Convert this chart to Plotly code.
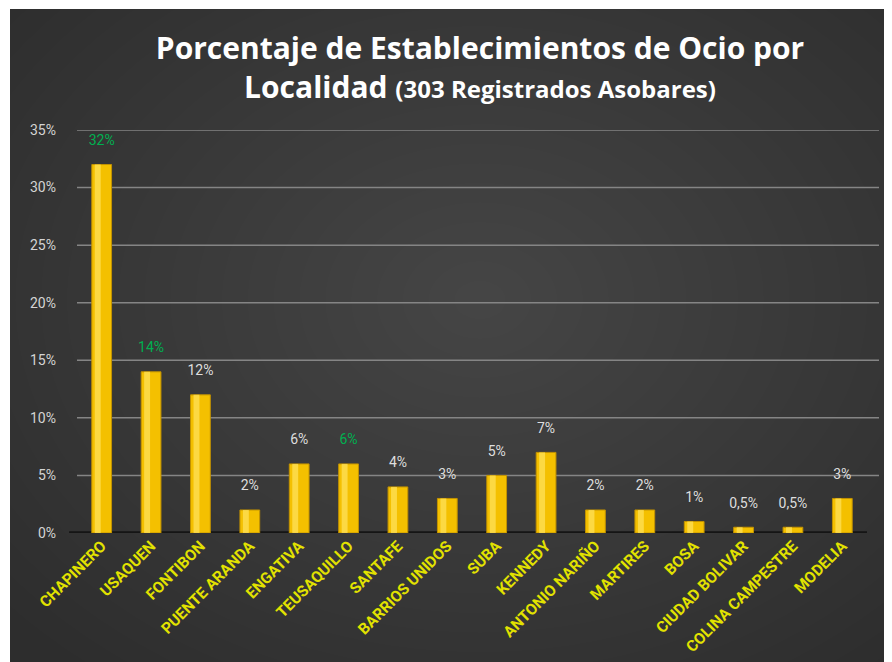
import plotly.graph_objects as go

# localidades and share of registered venues (%)
localidades = [
    "CHAPINERO", "USAQUEN", "FONTIBON", "PUENTE ARANDA", "ENGATIVA",
    "TEUSAQUILLO", "SANTAFE", "BARRIOS UNIDOS", "SUBA", "KENNEDY",
    "ANTONIO NARIÑO", "MARTIRES", "BOSA", "CIUDAD BOLIVAR",
    "COLINA CAMPESTRE", "MODELIA",
]
porcentajes = [32, 14, 12, 2, 6, 6, 4, 3, 5, 7, 2, 2, 1, 0.5, 0.5, 3]
destacados = ["CHAPINERO", "USAQUEN", "TEUSAQUILLO"]
y_ticks = [0, 5, 10, 15, 20, 25, 30, 35]

W, H = 892, 662
OFF = 8  # page body margin shifts the figure
ML, MR, MT, MB = 77 - OFF, W - (867 - OFF), 130 - OFF, H - (533 - OFF)
PW = W - ML - MR
PH = H - MT - MB


def px_x(p):
    # page pixel -> paper x
    return (p - OFF - ML) / PW


def px_y(p):
    return (H - MB - (p - OFF)) / PH


labels = [f"{v:g}%".replace(".", ",") for v in porcentajes]
label_colors = ["#00b050" if loc in destacados else "#dedede" for loc in localidades]
font_narrow = "Liberation Sans Narrow, Roboto, sans-serif"

fig = go.Figure()

fig.add_trace(
    go.Bar(
        x=localidades,
        y=porcentajes,
        width=0.4,
        marker=dict(color="#f4c000", line=dict(color="#c29200", width=1)),
        hoverinfo="x+y",
    )
)
# cylinder highlight
fig.add_trace(
    go.Bar(
        x=localidades,
        y=porcentajes,
        width=0.12,
        offset=-0.14,
        marker=dict(color="rgba(255,225,90,0.75)", line=dict(width=0)),
        hoverinfo="skip",
    )
)
fig.add_trace(
    go.Scatter(
        x=localidades,
        y=porcentajes,
        mode="markers+text",
        text=labels,
        textposition="top center",
        textfont=dict(color=label_colors, size=14, family=font_narrow),
        marker=dict(size=24, opacity=0),
        cliponaxis=False,
        hoverinfo="skip",
    )
)

# background: dark panel with lighter centre, white strip top/left
shapes = [
    dict(type="rect", xref="paper", yref="paper", x0=px_x(0), x1=px_x(W + OFF), y0=px_y(H + OFF), y1=px_y(0),
         fillcolor="#2d2d2d", line=dict(width=0), layer="below"),
]
n = 24
for i in range(n):
    f = 1 - i / n
    rx, ry = 620 * f, 470 * f
    cx, cy = 480, 300
    shapes.append(dict(type="circle", xref="paper", yref="paper",
                       x0=px_x(cx - rx), x1=px_x(cx + rx), y0=px_y(cy + ry), y1=px_y(cy - ry),
                       fillcolor="rgba(255,255,255,0.009)", line=dict(width=0), layer="below"))
shapes += [
    dict(type="rect", xref="paper", yref="paper", x0=px_x(0), x1=px_x(10), y0=px_y(H + OFF), y1=px_y(0),
         fillcolor="white", line=dict(width=0), layer="below"),
    dict(type="rect", xref="paper", yref="paper", x0=px_x(0), x1=px_x(W + OFF), y0=px_y(9), y1=px_y(0),
         fillcolor="white", line=dict(width=0), layer="below"),
    # floor strip
    dict(type="line", xref="paper", yref="y", x0=-0.01, x1=1.0, y0=-0.2, y1=-0.2,
         line=dict(color="#151515", width=8), layer="below"),
]
# grid lines reach a little past the plot on the right, as on the back wall
for v in y_ticks[1:]:
    shapes.append(dict(type="line", xref="paper", yref="y", x0=0, x1=px_x(879), y0=v, y1=v,
                       line=dict(color="#858585", width=1.5), layer="below"))

fig.update_layout(
    width=W,
    height=H,
    margin=dict(l=ML, r=MR, t=MT, b=MB, autoexpand=False),
    paper_bgcolor="white",
    plot_bgcolor="rgba(0,0,0,0)",
    showlegend=False,
    barmode="overlay",
    shapes=shapes,
    title=dict(
        text="Porcentaje de Establecimientos de Ocio por<br>Localidad <span style='font-size:24px'>(303 Registrados Asobares)</span>",
        x=(480 - OFF) / W, xanchor="center", xref="container",
        y=1 - (59 - OFF) / H, yanchor="top", yref="container",
        font=dict(family="Open Sans, sans-serif", size=30, color="white", weight="bold"),
    ),
    xaxis=dict(
        range=[-0.5, len(localidades) - 0.5],
        tickangle=-45,
        tickfont=dict(family=font_narrow, size=15.5, color="#e2e200", weight="bold"),
        showgrid=False,
        showline=False,
        ticks="",
    ),
    yaxis=dict(
        range=[0, 35],
        tickvals=y_ticks,
        ticktext=[f"{v}%" for v in y_ticks],
        tickfont=dict(family=font_narrow, size=14, color="#d4d4d4"),
        showgrid=False,
        zeroline=False,
        ticklabelstandoff=20,
    ),
)

fig.write_html("out.html")
